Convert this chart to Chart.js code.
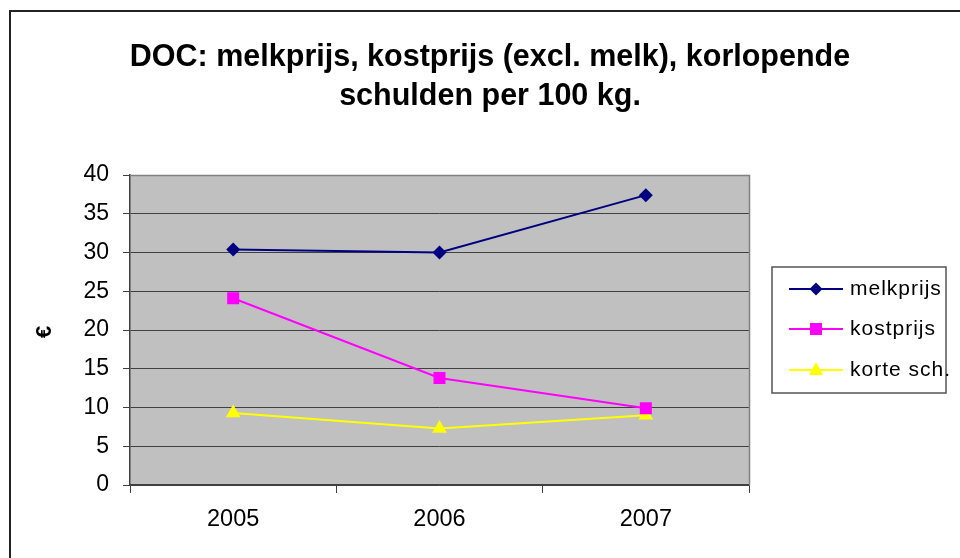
<!DOCTYPE html>
<html>
<head>
<meta charset="utf-8">
<script src="https://cdn.jsdelivr.net/npm/chart.js@4/dist/chart.umd.min.js"></script>
<style>
  html, body { margin: 0; padding: 0; background: #fff; }
  #wrap { width: 960px; height: 558px; }
</style>
</head>
<body>
<div id="wrap"><canvas id="docChart" width="960" height="558"></canvas></div>
<script>
// data
const years = ['2005', '2006', '2007'];
const melkprijs = [30.4, 30.0, 37.4];
const kostprijs = [24.1, 13.8, 9.9];
const korteSch = [9.3, 7.3, 9.0];
const yTicks = [0, 5, 10, 15, 20, 25, 30, 35, 40];

const titleLines = ['DOC: melkprijs, kostprijs (excl. melk), korlopende', 'schulden per 100 kg.'];
const FONT = '"Liberation Sans", Arial, sans-serif';

// gray plot area, outer frame, title, y title and the boxed legend
const excelLook = {
    id: 'excelLook',
    beforeDraw(chart) {
        const ctx = chart.ctx;
        const a = chart.chartArea;
        ctx.save();
        ctx.fillStyle = '#fff';
        ctx.fillRect(0, 0, chart.width, chart.height);
        ctx.fillStyle = '#c0c0c0';
        ctx.fillRect(a.left, a.top, a.right - a.left, a.bottom - a.top);
        ctx.restore();
    },
    afterDraw(chart) {
        const ctx = chart.ctx;
        const a = chart.chartArea;
        ctx.save();
        // plot border top/right
        ctx.strokeStyle = '#808080';
        ctx.lineWidth = 1.5;
        ctx.beginPath();
        ctx.moveTo(a.left, a.top + 0.5);
        ctx.lineTo(a.right + 0.5, a.top + 0.5);
        ctx.lineTo(a.right + 0.5, a.bottom);
        ctx.stroke();

        // outer frame
        ctx.strokeStyle = '#222';
        ctx.lineWidth = 2;
        ctx.beginPath();
        ctx.moveTo(10, chart.height);
        ctx.lineTo(10, 11);
        ctx.lineTo(chart.width, 11);
        ctx.stroke();

        // title
        ctx.fillStyle = '#000';
        ctx.font = 'bold 30.5px ' + FONT;
        ctx.textAlign = 'center';
        ctx.textBaseline = 'middle';
        ctx.fillText(titleLines[0], 490, 58);
        ctx.fillText(titleLines[1], 490, 97);

        // y title
        ctx.save();
        ctx.translate(45, 332);
        ctx.rotate(-Math.PI / 2);
        ctx.font = 'bold 22px ' + FONT;
        ctx.fillText('€', 0, 0);
        ctx.restore();

        // legend
        ctx.strokeStyle = '#555';
        ctx.lineWidth = 1.5;
        ctx.strokeRect(772, 267, 174, 126);
        ctx.font = '21px ' + FONT;
        ctx.letterSpacing = '1px';
        ctx.textAlign = 'left';
        const rows = [289, 329, 370];
        chart.data.datasets.forEach((ds, i) => {
            const y = rows[i];
            ctx.strokeStyle = ds.borderColor;
            ctx.lineWidth = 2;
            ctx.beginPath();
            ctx.moveTo(789, y);
            ctx.lineTo(843, y);
            ctx.stroke();
            ctx.fillStyle = ds.backgroundColor;
            ctx.beginPath();
            const cx = 816;
            if (ds.pointStyle === 'rectRot') {
                ctx.moveTo(cx, y - 6.5); ctx.lineTo(cx + 6.5, y); ctx.lineTo(cx, y + 6.5); ctx.lineTo(cx - 6.5, y);
            } else if (ds.pointStyle === 'rect') {
                ctx.rect(cx - 6, y - 6, 12, 12);
            } else {
                ctx.moveTo(cx, y - 8); ctx.lineTo(cx + 7, y + 5); ctx.lineTo(cx - 7, y + 5);
            }
            ctx.closePath();
            ctx.fill();
            ctx.fillStyle = '#000';
            ctx.fillText(ds.label, 850, y);
        });
        ctx.restore();
    }
};

new Chart(document.getElementById('docChart').getContext('2d'), {
    type: 'line',
    data: {
        labels: years,
        datasets: [{
            label: 'melkprijs',
            data: melkprijs,
            borderColor: '#000080',
            backgroundColor: '#000080',
            borderWidth: 2,
            pointStyle: 'rectRot',
            pointRadius: 7,
            pointBorderWidth: 0
        }, {
            label: 'kostprijs',
            data: kostprijs,
            borderColor: '#ff00ff',
            backgroundColor: '#ff00ff',
            borderWidth: 2,
            pointStyle: 'rect',
            pointRadius: 8.5,
            pointBorderWidth: 0
        }, {
            label: 'korte sch.',
            data: korteSch,
            borderColor: '#ffff00',
            backgroundColor: '#ffff00',
            borderWidth: 2,
            pointStyle: 'triangle',
            pointRadius: 8.5,
            pointBorderWidth: 0
        }]
    },
    options: {
        responsive: false,
        animation: false,
        layout: { padding: { top: 175, right: 211, left: 0, bottom: 0 } },
        plugins: {
            legend: { display: false },
            title: { display: false },
            tooltip: { enabled: false }
        },
        scales: {
            x: {
                offset: true,
                afterFit(scale) { scale.height = 73; },
                grid: { offset: true, drawOnChartArea: false, tickLength: 8, color: '#404040' },
                border: { color: '#404040', width: 1.5 },
                ticks: { color: '#000', font: { family: FONT, size: 23.5 }, padding: 12 }
            },
            y: {
                min: 0,
                max: 40,
                afterFit(scale) { scale.width = 130; },
                afterBuildTicks(scale) { scale.ticks = yTicks.map(v => ({ value: v })); },
                grid: { color: '#404040', tickLength: 7 },
                border: { color: '#404040', width: 1.5 },
                ticks: { color: '#000', font: { family: FONT, size: 23 }, padding: 14 }
            }
        }
    },
    plugins: [excelLook]
});
</script>
</body>
</html>
